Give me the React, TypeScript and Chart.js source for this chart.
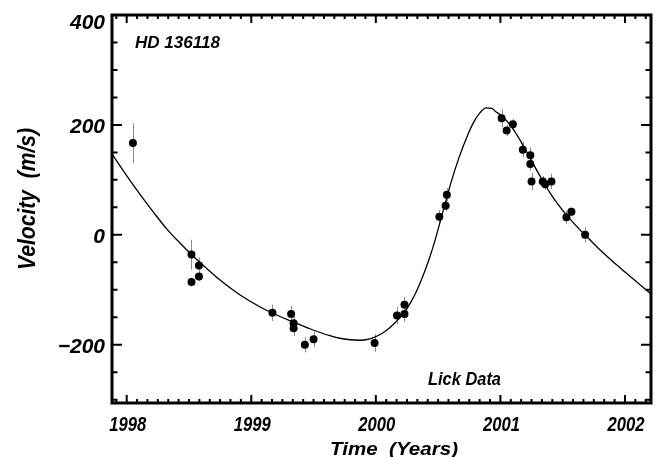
import React, { useEffect, useRef } from "react";
import { Chart, registerables } from "chart.js";

Chart.register(...registerables);

// ---- data ----
const obsYears = [
  1998.05, 1998.52, 1998.52, 1998.58, 1998.58, 1999.17, 1999.32, 1999.34, 1999.34,
  1999.43, 1999.5, 1999.99, 2000.17, 2000.23, 2000.23, 2000.51, 2000.56, 2000.57,
  2001.01, 2001.05, 2001.1, 2001.18, 2001.24, 2001.24, 2001.25, 2001.34, 2001.36,
  2001.41, 2001.53, 2001.57, 2001.68,
];
const obsVelocity = [
  167, -36, -86, -56, -76, -142, -144, -161, -170,
  -200, -190, -197, -147, -144, -127, 33, 53, 73,
  212, 190, 201, 155, 145, 129, 97, 97, 92,
  97, 32, 42, 0,
];
const obsError = [
  36, 27, 8, 15, 8, 15, 15, 12, 14,
  14, 14, 16, 16, 14, 14, 12, 10, 12,
  16, 10, 10, 14, 14, 12, 16, 10, 10,
  14, 12, 8, 14,
];
const fitYears = [
  1997.871, 1997.984, 1998.104, 1998.225, 1998.321, 1998.426, 1998.522, 1998.627,
  1998.747, 1998.908, 1999.068, 1999.173, 1999.333, 1999.47, 1999.631, 1999.711,
  1999.791, 1999.871, 1999.952, 2000.032, 2000.112, 2000.153, 2000.193, 2000.233,
  2000.273, 2000.313, 2000.353, 2000.394, 2000.434, 2000.474, 2000.514, 2000.562,
  2000.61, 2000.667, 2000.731, 2000.787, 2000.835, 2000.884, 2000.932, 2000.956,
  2001.02, 2001.084, 2001.157, 2001.237, 2001.317, 2001.398, 2001.478, 2001.558,
  2001.639, 2001.719, 2001.799, 2001.904, 2002.008, 2002.112, 2002.217,
];
const fitVelocity = [
  150.9, 112.7, 74.5, 38.2, 10.9, -14.5, -36.4, -58.2,
  -81.8, -109.1, -130.9, -142.7, -158.2, -170.9, -183.6, -188.2,
  -190.9, -191.8, -189.1, -181.8, -169.1, -160, -150.9, -140,
  -125.5, -109.1, -89.1, -65.5, -40, -10.9, 21.8, 61.8,
  100, 140, 178.2, 205.5, 221.8, 230.9, 230, 225.5,
  214.5, 198.2, 172.7, 140, 107.3, 76.4, 50.9, 29.1,
  9.1, -9.1, -27.3, -49.1, -69.1, -89.1, -109.1,
];
const xTickYears = [1998, 1999, 2000, 2001, 2002];
const yTickValues = [-200, 0, 200, 400];
const xMin = 1997.882;
const xMax = 2002.209;
const yMin = -306;
const yMax = 400;
const starName = "HD 136118";
const sourceLabel = "Lick Data";
const xTitle = "Time  (Years)";
const yTitle = "Velocity  (m/s)";

const FONT = "'Liberation Sans', Arial, Helvetica, sans-serif";

function fitText(
  ctx: CanvasRenderingContext2D,
  text: string,
  x: number,
  y: number,
  size: number,
  width: number,
  align: CanvasTextAlign
) {
  ctx.save();
  ctx.font = `italic bold ${size}px ${FONT}`;
  const w = ctx.measureText(text).width;
  const s = width > 0 ? width / w : 1;
  ctx.translate(x, y);
  ctx.scale(s, 1);
  ctx.textAlign = align;
  ctx.textBaseline = "alphabetic";
  ctx.fillStyle = "#000";
  ctx.fillText(text, 0, 0);
  ctx.restore();
}

const errorBarPlugin = {
  id: "errorBars",
  beforeDatasetsDraw(chart: any) {
    const { ctx, scales } = chart;
    ctx.save();
    ctx.strokeStyle = "#8a8a8a";
    ctx.lineWidth = 1;
    obsYears.forEach((yr, i) => {
      const px = Math.round(scales.x.getPixelForValue(yr)) + 0.5;
      const y1 = scales.y.getPixelForValue(obsVelocity[i] + obsError[i]);
      const y2 = scales.y.getPixelForValue(obsVelocity[i] - obsError[i]);
      ctx.beginPath();
      ctx.moveTo(px, y1);
      ctx.lineTo(px, y2);
      ctx.stroke();
    });
    ctx.restore();
  },
};

const framePlugin = {
  id: "frameAndText",
  afterDraw(chart: any) {
    const { ctx, scales, chartArea } = chart;
    const { left, right, top, bottom } = chartArea;
    const xs = scales.x;
    const ys = scales.y;
    ctx.save();
    ctx.strokeStyle = "#000";
    // ticks
    ctx.lineWidth = 2;
    ctx.beginPath();
    for (let m = Math.ceil(xMin * 12); m <= Math.floor(xMax * 12); m++) {
      const v = m / 12;
      const px = xs.getPixelForValue(v);
      const len = m % 12 === 0 ? 8 : 4;
      ctx.moveTo(px, bottom);
      ctx.lineTo(px, bottom - len);
      ctx.moveTo(px, top);
      ctx.lineTo(px, top + len);
    }
    for (let v = -300; v <= yMax; v += 50) {
      const py = ys.getPixelForValue(v);
      const len = v % 200 === 0 ? 10 : 5.5;
      ctx.moveTo(left, py);
      ctx.lineTo(left + len, py);
      ctx.moveTo(right, py);
      ctx.lineTo(right - len, py);
    }
    ctx.stroke();
    // frame
    ctx.lineWidth = 3;
    ctx.strokeRect(left, top, right - left, bottom - top);
    ctx.restore();

    // y tick labels
    yTickValues.forEach((v) => {
      const py = ys.getPixelForValue(v);
      const label = v < 0 ? "\u2212" + Math.abs(v) : String(v);
      const base = Math.max(py + 8.5, top + 13.5);
      fitText(ctx, label, left - 7, base, 21, 0, "right");
    });
    // x tick labels
    xTickYears.forEach((v) => {
      const px = xs.getPixelForValue(v);
      fitText(ctx, String(v), px + 1, 431, 21, 37, "center");
    });
    // axis titles
    fitText(ctx, xTitle, 330, 455, 18, 128, "left");
    ctx.save();
    ctx.translate(35, 270);
    ctx.rotate(-Math.PI / 2);
    fitText(ctx, yTitle, 0, 0, 23, 142, "left");
    ctx.restore();
    // annotations
    fitText(ctx, starName, 135, 48, 16, 85, "left");
    fitText(ctx, sourceLabel, 428, 385, 18, 73, "left");
  },
};

export default function App() {
  const canvasRef = useRef<HTMLCanvasElement | null>(null);

  useEffect(() => {
    const canvas = canvasRef.current;
    if (!canvas) return;
    const chart = new Chart(canvas, {
      type: "scatter",
      data: {
        datasets: [
          {
            type: "line",
            data: fitYears.map((x, i) => ({ x, y: fitVelocity[i] })),
            borderColor: "#000",
            borderWidth: 1.3,
            pointRadius: 0,
            fill: false,
            cubicInterpolationMode: "monotone",
          } as any,
          {
            type: "scatter",
            data: obsYears.map((x, i) => ({ x, y: obsVelocity[i] })),
            backgroundColor: "#000",
            borderColor: "#000",
            borderWidth: 0,
            pointRadius: 4,
          },
        ],
      },
      options: {
        animation: false,
        responsive: false,
        devicePixelRatio: 1,
        layout: { padding: { left: 112, top: 15, right: 7, bottom: 54 } },
        scales: {
          x: { type: "linear", min: xMin, max: xMax, display: false },
          y: { type: "linear", min: yMin, max: yMax, display: false },
        },
        plugins: {
          legend: { display: false },
          tooltip: { enabled: false },
        },
      },
      plugins: [errorBarPlugin, framePlugin],
    });
    return () => chart.destroy();
  }, []);

  return (
    <div style={{ position: "absolute", left: 0, top: 0, width: 658, height: 457, background: "#fff" }}>
      <canvas ref={canvasRef} width={658} height={457} style={{ display: "block" }} />
    </div>
  );
}
